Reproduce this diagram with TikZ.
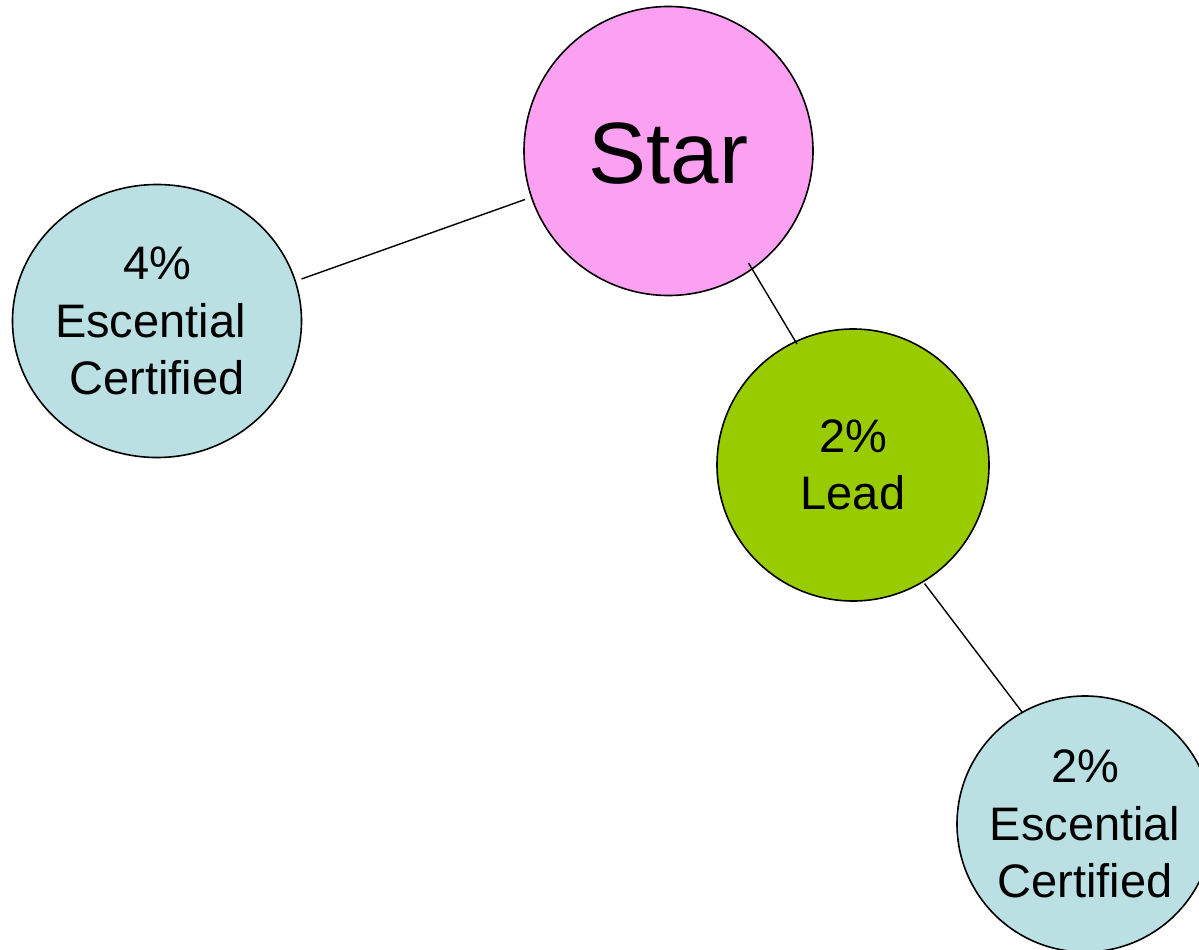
\documentclass[tikz,border=0pt]{standalone}
\usepackage{fontspec}
\setmainfont{Liberation Sans}
\usetikzlibrary{shapes.geometric}
\definecolor{starpink}{HTML}{FCA0F2}
\definecolor{leadgreen}{HTML}{99CC00}
\definecolor{certblue}{HTML}{BBE0E3}
\tikzset{
  bubble/.style={draw=black, line width=1.6pt, inner sep=0pt, align=center,
    font=\fontsize{47}{57.5}\selectfont},
  link/.style={draw=black, line width=1.4pt}
}
\begin{document}
\begin{tikzpicture}[x=1pt, y=-1pt]
  \useasboundingbox (0,0) rectangle (1199,950);
  \clip (0,0) rectangle (1199,950);

  % bubbles
  \node[bubble, circle, fill=starpink, minimum size=289pt] (star) at (668.5,151) {};
  \node[font=\fontsize{87}{100}\selectfont, inner sep=0pt] (startext) at (668.5,154) {Star};

  \node[bubble, ellipse, fill=certblue, minimum width=289pt, minimum height=273pt]
        (certA) at (157,321) {4\%\\Escential\hbox to 13pt{}\\Certified};

  \node[bubble, circle, fill=leadgreen, minimum size=272pt]
        (lead) at (853,465) {2\%\\Lead};

  \node[bubble, circle, fill=certblue, minimum size=256pt]
        (certB) at (1085,824) {2\%\\Escential\\Certified};

  % connector end points
  \coordinate (a1) at (301.5,279);
  \coordinate (a2) at (525,199.5);
  \coordinate (b1) at (748.5,263);
  \coordinate (b2) at (797,344);
  \coordinate (c1) at (924.5,583.5);
  \coordinate (c2) at (1022,712);

  % connectors
  \draw[link] (a1) -- (a2);
  \draw[link] (b1) -- (b2);
  \draw[link] (c1) -- (c2);
\end{tikzpicture}
\end{document}
